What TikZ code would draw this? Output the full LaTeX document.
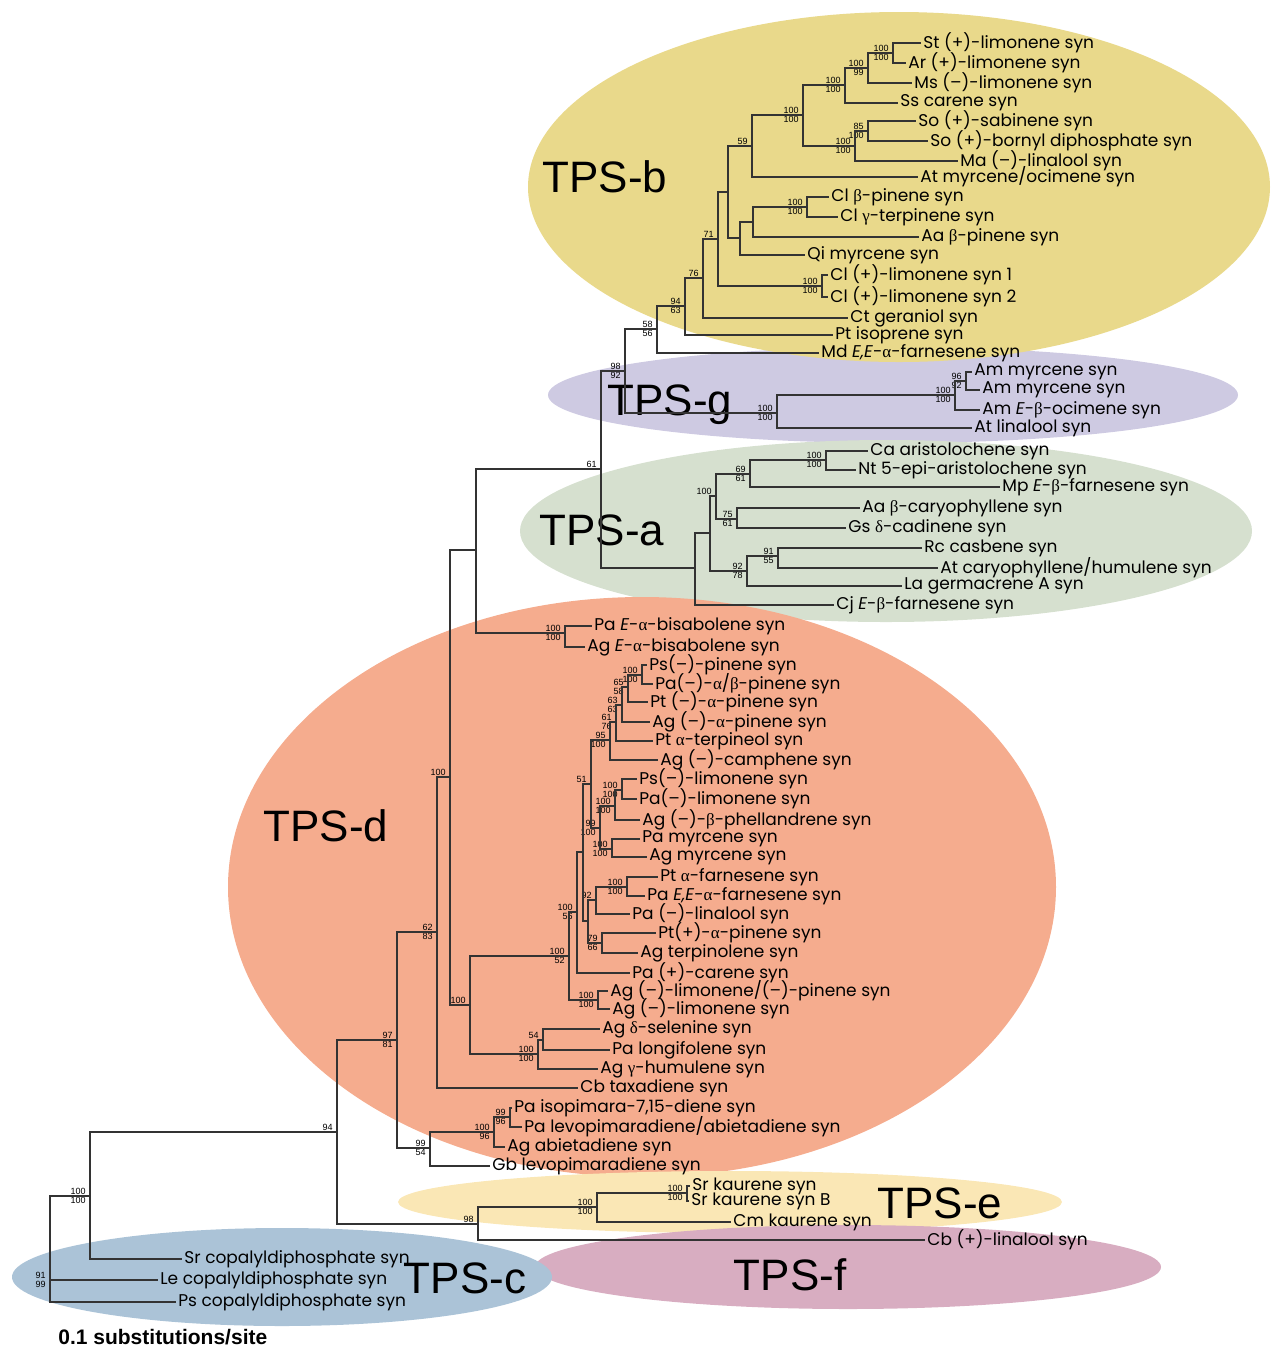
\documentclass[tikz,border=0pt]{standalone}
\usepackage{fontspec}
\setmainfont{Poppins}
\newfontfamily\grk{Liberation Serif}
\newfontfamily\arial{Liberation Sans}
\usepackage{tikz}
\usetikzlibrary{positioning, calc}

\definecolor{tpsb}{RGB}{233,217,139}
\definecolor{tpsg}{RGB}{206,202,226}
\definecolor{tpsa}{RGB}{214,224,207}
\definecolor{tpsd}{RGB}{245,172,142}
\definecolor{tpse}{RGB}{250,231,181}
\definecolor{tpsf}{RGB}{216,173,193}
\definecolor{tpsc}{RGB}{171,195,215}

\begin{document}
\begin{tikzpicture}[x=0.5pt, y=-0.5pt,
  leaf/.style={anchor=west, inner sep=1pt, font=\fontsize{8.5}{10}\selectfont},
  boot/.style={inner sep=0pt, font=\arial\fontsize{4.5}{5}\selectfont},
  branch/.style={draw=black!80, line width=0.7pt},
  clade/.style={inner sep=0pt, font=\arial\fontsize{22}{24}\selectfont}]
\useasboundingbox (0,0) rectangle (1272,1351);

% subfamily ellipses
\fill[tpsg] (893,395) ellipse [x radius=172.5pt, y radius=24pt];
\fill[tpsb] (899,187) ellipse [x radius=185.5pt, y radius=87.5pt];
\fill[tpsa] (886,531) ellipse [x radius=183pt, y radius=45.5pt];
\fill[tpsd] (642,887) ellipse [x radius=207pt, y radius=145pt];
\fill[tpse] (730,1202) ellipse [x radius=166pt, y radius=15.5pt];
\fill[tpsf] (848,1267) ellipse [x radius=156.5pt, y radius=21pt];
\fill[tpsc] (282,1277) ellipse [x radius=135pt, y radius=24.5pt];

\node[clade] (labB) at (605,177) {TPS-b};
\node[clade] (labG) at (670,405) {TPS-g};
\node[clade] (labA) at (602,530) {TPS-a};
\node[clade] (labD) at (326,826) {TPS-d};
\node[clade] (labE) at (940,1203) {TPS-e};
\node[clade] (labF) at (790,1275) {TPS-f};
\node[clade] (labC) at (465,1278) {TPS-c};

% TPS-b
\node[leaf] (stLim) at (921,43) {St (+)-limonene syn};
\node[leaf] (arLim) at (906,63) {Ar (+)-limonene syn};
\node[leaf] (msLim) at (912,83) {Ms (--)-limonene syn};
\node[leaf] (ssCar) at (898,103) {Ss carene syn};
\node[leaf] (soSab) at (916,121) {So (+)-sabinene syn};
\node[leaf] (soBor) at (928,141) {So (+)-bornyl diphosphate syn};
\node[leaf] (maLin) at (958,161) {Ma (--)-linalool syn};
\node[leaf] (atMyr) at (918,177) {At myrcene/ocimene syn};
\node[leaf] (clBpin) at (829,197) {Cl {\grk β}-pinene syn};
\node[leaf] (clGter) at (838,217) {Cl {\grk γ}-terpinene syn};
\node[leaf] (aaBpin) at (919,237) {Aa {\grk β}-pinene syn};
\node[leaf] (qiMyr) at (805,255) {Qi myrcene syn};
\node[leaf] (clLim1) at (828,275) {Cl (+)-limonene syn 1};
\node[leaf] (clLim2) at (828,297) {Cl (+)-limonene syn 2};
\node[leaf] (ctGer) at (848,318) {Ct geraniol syn};
\node[leaf] (ptIso) at (833,335) {Pt isoprene syn};
\node[leaf] (mdFar) at (819,353) {Md \textit{E,E}-{\grk α}-farnesene syn};

% TPS-g
\node[leaf] (amMyr1) at (972,372) {Am myrcene syn};
\node[leaf] (amMyr2) at (980,390) {Am myrcene syn};
\node[leaf] (amOci) at (980,410) {Am \textit{E}-{\grk β}-ocimene syn};
\node[leaf] (atLin) at (972,428) {At linalool syn};

% TPS-a
\node[leaf] (caAri) at (868,451) {Ca aristolochene syn};
\node[leaf] (ntEpi) at (856,470) {Nt 5-epi-aristolochene syn};
\node[leaf] (mpFar) at (1000,487) {Mp \textit{E}-{\grk β}-farnesene syn};
\node[leaf] (aaCar) at (860,508) {Aa {\grk β}-caryophyllene syn};
\node[leaf] (gsCad) at (846,528) {Gs {\grk δ}-cadinene syn};
\node[leaf] (rcCas) at (922,548) {Rc casbene syn};
\node[leaf] (atCar) at (938,568) {At caryophyllene/humulene syn};
\node[leaf] (laGer) at (902,586) {La germacrene A syn};
\node[leaf] (cjFar) at (834,605) {Cj \textit{E}-{\grk β}-farnesene syn};

% TPS-d
\node[leaf] (paBis) at (592,626) {Pa \textit{E}-{\grk α}-bisabolene syn};
\node[leaf] (agBis) at (585,647) {Ag \textit{E}-{\grk α}-bisabolene syn};
\node[leaf] (psPin) at (647,665) {Ps(--)-pinene syn};
\node[leaf] (paPin) at (653,684) {Pa(--)-{\grk α}/{\grk β}-pinene syn};
\node[leaf] (ptPin) at (648,702) {Pt (--)-{\grk α}-pinene syn};
\node[leaf] (agPin) at (650,722) {Ag (--)-{\grk α}-pinene syn};
\node[leaf] (ptTer) at (653,741) {Pt {\grk α}-terpineol syn};
\node[leaf] (agCam) at (658,760) {Ag (--)-camphene syn};
\node[leaf] (psLim) at (637,779) {Ps(--)-limonene syn};
\node[leaf] (paLim) at (637,799) {Pa(--)-limonene syn};
\node[leaf] (agPhe) at (640,820) {Ag (--)-{\grk β}-phellandrene syn};
\node[leaf] (paMyr) at (640,839) {Pa myrcene syn};
\node[leaf] (agMyr) at (647,857) {Ag myrcene syn};
\node[leaf] (ptFar) at (658,877) {Pt {\grk α}-farnesene syn};
\node[leaf] (paFar) at (645,896) {Pa \textit{E,E}-{\grk α}-farnesene syn};
\node[leaf] (paLin) at (630,914) {Pa (--)-linalool syn};
\node[leaf] (ptPinP) at (656,933) {Pt(+)-{\grk α}-pinene syn};
\node[leaf] (agTer) at (638,953) {Ag terpinolene syn};
\node[leaf] (paCar) at (630,973) {Pa (+)-carene syn};
\node[leaf] (agLimPin) at (608,991) {Ag (--)-limonene/(--)-pinene syn};
\node[leaf] (agLim) at (610,1009) {Ag (--)-limonene syn};
\node[leaf] (agSel) at (600,1029) {Ag {\grk δ}-selenine syn};
\node[leaf] (paLon) at (610,1050) {Pa longifolene syn};
\node[leaf] (agHum) at (598,1069) {Ag {\grk γ}-humulene syn};
\node[leaf] (cbTax) at (578,1088) {Cb taxadiene syn};
\node[leaf] (paIso) at (512,1108) {Pa isopimara-7,15-diene syn};
\node[leaf] (paLev) at (522,1127) {Pa levopimaradiene/abietadiene syn};
\node[leaf] (agAbi) at (505,1147) {Ag abietadiene syn};
\node[leaf] (gbLev) at (490,1166) {Gb levopimaradiene syn};

% TPS-e, TPS-f
\node[leaf] (srKau) at (690,1186) {Sr kaurene syn};
\node[leaf] (srKauB) at (689,1201) {Sr kaurene syn B};
\node[leaf] (cmKau) at (731,1222) {Cm kaurene syn};
\node[leaf] (cbLin) at (925,1240) {Cb (+)-linalool syn};

% TPS-c
\node[leaf] (srCop) at (182,1259) {Sr copalyldiphosphate syn};
\node[leaf] (leCop) at (158,1280) {Le copalyldiphosphate syn};
\node[leaf] (psCop) at (176,1302) {Ps copalyldiphosphate syn};

% inner nodes with two support values
\foreach \n/\x/\y/\a/\b in {nStAr/893/53/100/100, nMs/868/68/100/99, nSs/845/85/100/100,
  nSo/868/131/85/100, nMa/855/146/100/100, nMono/803/115/100/100, nCl/807/207/100/100,
  nClLim/822/286/100/100, n94b/685/306/94/63, n58/657/329/58/56,
  nAm1/966/381/96/92, nAm/955/395/100/100, nG/777/413/100/100, n98/625/371/98/92,
  nCaNt/826/460/100/100, n69/750/474/69/61, n75/737/519/75/61, n91/778/556/91/55,
  n92a/747/571/92/78, nBis/565/633/100/100,
  nA/642/675/100/100, nB/628/687/65/58, nC/622/705/63/63, nD/616/722/61/76, nE/610/740/95/100,
  nPsPa/622/790/100/100, nPhel/615/806/100/100, nMyr/612/849/100/100, n99d/600/828/99/100,
  nFar/627/887/100/100, n79/602/943/79/66, n577/577/912/100/56, nAgLim/598/1000/100/100,
  n569/569/956/100/52, nSesq/538/1054/100/100, n62/437/932/62/83,
  nIso/510/1117/99/96, nAbi/494/1132/100/96, nDit/430/1148/99/54, n97/397/1040/97/81,
  nSr/687/1193/100/100, nKau/597/1207/100/100, nCop/90/1196/100/100, root/50/1280/91/99}{
  \coordinate (\n) at (\x,\y);
  \node[boot, anchor=south east] (\n-a) at ([xshift=-2pt,yshift=0.6pt]\n) {\a};
  \node[boot, anchor=north east] (\n-b) at ([xshift=-2pt,yshift=-0.6pt]\n) {\b};
}
% inner nodes with one support value
\foreach \n/\x/\y/\a in {n59/752/146/59, n71/718/239/71, n76/703/278/76, nA100/716/496/100,
  n61/601/469/61, n51/591/784/51, n92d/596/900/92, nSel/543/1040/54, n470/470/1005/100,
  n450/450/777/100, n98e/478/1224/98, n94/337/1132/94}{
  \coordinate (\n) at (\x,\y);
  \node[boot, anchor=south east] (\n-a) at ([xshift=-2pt,yshift=0.6pt]\n) {\a};
}
% inner nodes without values
\foreach \n/\x/\y in {nAa/753/222, nQi/740/238, n728/728/192, nAun/710/533, nAroot/695/568,
  n476/476/550, nX/583/852, n588/588/921}
  \coordinate (\n) at (\x,\y);

% branches
\foreach \p/\c in {nStAr/stLim, nStAr/arLim, nMs/nStAr, nMs/msLim, nSs/nMs, nSs/ssCar,
  nSo/soSab, nSo/soBor, nMa/nSo, nMa/maLin, nMono/nSs, nMono/nMa, n59/nMono, n59/atMyr,
  nCl/clBpin, nCl/clGter, nAa/nCl, nAa/aaBpin, nQi/nAa, nQi/qiMyr, n728/n59, n728/nQi,
  nClLim/clLim1, nClLim/clLim2, n71/n728, n71/nClLim, n76/n71, n76/ctGer,
  n94b/n76, n94b/ptIso, n58/n94b, n58/mdFar,
  nAm1/amMyr1, nAm1/amMyr2, nAm/nAm1, nAm/amOci, nG/nAm, nG/atLin, n98/n58, n98/nG,
  nCaNt/caAri, nCaNt/ntEpi, n69/nCaNt, n69/mpFar, n75/aaCar, n75/gsCad, nA100/n69, nA100/n75,
  n91/rcCas, n91/atCar, n92a/n91, n92a/laGer, nAun/nA100, nAun/n92a, nAroot/nAun, nAroot/cjFar,
  n61/n98, n61/nAroot,
  nBis/paBis, nBis/agBis, n476/n61, n476/nBis,
  nA/psPin, nA/paPin, nB/nA, nB/ptPin, nC/nB, nC/agPin, nD/nC, nD/ptTer, nE/nD, nE/agCam,
  nPsPa/psLim, nPsPa/paLim, nPhel/nPsPa, nPhel/agPhe, nMyr/paMyr, nMyr/agMyr,
  n99d/nPhel, n99d/nMyr, n51/nE, n51/n99d,
  nFar/ptFar, nFar/paFar, n92d/nFar, n92d/paLin, n79/ptPinP, n79/agTer, n588/n92d, n588/n79,
  nX/n51, nX/n588, n577/nX, n577/paCar, nAgLim/agLimPin, nAgLim/agLim, n569/n577, n569/nAgLim,
  nSel/agSel, nSel/paLon, nSesq/nSel, nSesq/agHum, n470/n569, n470/nSesq,
  n450/n476, n450/n470, n62/n450, n62/cbTax,
  nIso/paIso, nIso/paLev, nAbi/nIso, nAbi/agAbi, nDit/nAbi, nDit/gbLev, n97/n62, n97/nDit,
  nSr/srKau, nSr/srKauB, nKau/nSr, nKau/cmKau, n98e/nKau, n98e/cbLin, n94/n97, n94/n98e,
  nCop/n94, nCop/srCop, root/nCop, root/leCop, root/psCop}
  \draw[branch] (\p) |- (\c);

\node[anchor=west, inner sep=0pt, font=\arial\bfseries\fontsize{10.5}{12}\selectfont] (scale) at (58,1337) {0.1 substitutions/site};
\end{tikzpicture}
\end{document}
